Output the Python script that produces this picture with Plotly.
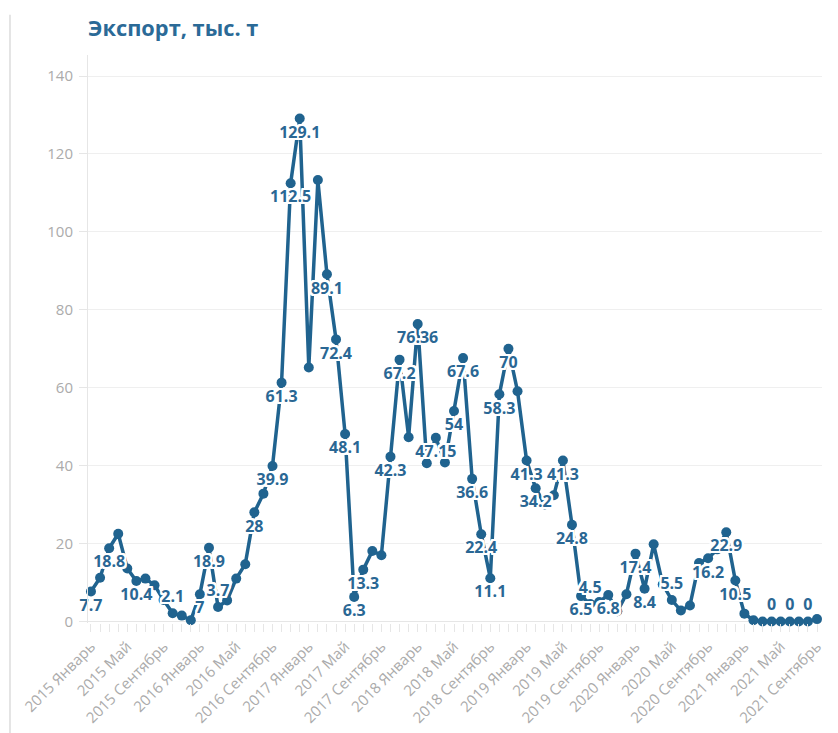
import plotly.graph_objects as go

# Monthly export volume, thousand tonnes, Jan 2015 .. Sep 2021
years = [2015, 2016, 2017, 2018, 2019, 2020, 2021]
tick_months = ["Январь", "Май", "Сентябрь"]

export_kt = [
    7.7, 11.2, 18.8, 22.5, 13.6, 10.4, 11.0, 9.3, 5.5, 2.1, 1.5, 0.3,        # 2015
    7, 18.9, 3.7, 5.4, 11.0, 14.7, 28, 32.8, 39.9, 61.3, 112.5, 129.1,       # 2016
    65.2, 113.3, 89.1, 72.4, 48.1, 6.3, 13.3, 18.1, 17.0, 42.3, 67.2, 47.3,  # 2017
    76.36, 40.6, 47.15, 40.8, 54, 67.6, 36.6, 22.4, 11.1, 58.3, 70, 59.1,    # 2018
    41.3, 34.2, 30.0, 32.4, 41.3, 24.8, 6.5, 4.5, 5.0, 6.8, 2.6, 7.0,        # 2019
    17.4, 8.4, 19.8, 9.5, 5.5, 2.8, 4.1, 15.0, 16.2, 18.5, 22.9, 10.5,       # 2020
    2.0, 0.3, 0, 0, 0, 0, 0, 0, 0.6,                                         # 2021
]

# points that carry a value label, and where the label sits
labelled = [0, 2, 5, 9, 12, 13, 14, 18, 20, 21, 22, 23, 26, 27, 28, 29, 30,
            33, 34, 36, 38, 40, 41, 42, 43, 44, 45, 46, 48, 49, 52, 53, 54,
            55, 57, 60, 61, 64, 68, 70, 71, 75, 77, 79]
above = {9: "top center", 14: "top center", 55: "top center", 64: "top center",
         75: "top center", 77: "top center", 79: "top center"}

month_idx = list(range(len(export_kt)))
tick_vals = list(range(0, len(export_kt), 4))
tick_text = [f"{y} {m}" for y in years for m in tick_months][:len(tick_vals)]

texts = [f"{v:g}" if i in labelled else "" for i, v in enumerate(export_kt)]
positions = [above.get(i, "bottom center") for i in month_idx]

LINE = "#20638f"
LABEL = "#2a6794"
AXIS_TXT = "#ababab"

# white halo around value labels so they read over the line
offsets = [(dx, dy) for dx in (-2, -1, 0, 1, 2) for dy in (-2, -1, 0, 1, 2)
           if (dx, dy) != (0, 0)]
halo = ", ".join(f"{dx}px {dy}px 0 #fff" for dx, dy in offsets)

fig = go.Figure(
    go.Scatter(
        x=month_idx,
        y=export_kt,
        mode="lines+markers+text",
        line=dict(color=LINE, width=3.5),
        marker=dict(color=LINE, size=10),
        text=texts,
        textposition=positions,
        textfont=dict(family="Open Sans", size=16, color=LABEL,
                      weight="bold", shadow=halo),
        cliponaxis=False,
        hoverinfo="x+y",
        showlegend=False,
    )
)

fig.update_layout(
    width=838,
    height=733,
    margin=dict(l=88, r=16, t=55, b=110, autoexpand=False),
    paper_bgcolor="white",
    plot_bgcolor="white",
    font=dict(family="Open Sans", color=AXIS_TXT),
    title=dict(
        text="Экспорт, тыс. т",
        xref="container", yref="container",
        x=88 / 838, xanchor="left",
        y=1 - 28 / 733, yanchor="middle",
        font=dict(family="Open Sans", size=21.8, color="#2b6a97", weight="bold"),
    ),
    xaxis=dict(
        range=[-0.33, 80.55],
        automargin=False,
        tickmode="array",
        tickvals=tick_vals,
        ticktext=tick_text,
        tickangle=-45,
        tickfont=dict(size=15, color=AXIS_TXT),
        ticks="outside", ticklen=8, tickcolor="#e6e6e6", tickwidth=1,
        minor=dict(dtick=1, tick0=0, ticks="outside", ticklen=8,
                   tickcolor="#e6e6e6", showgrid=False),
        showgrid=False, zeroline=False, showline=False,
    ),
    yaxis=dict(
        range=[-0.4, 145.4],
        automargin=False,
        tickmode="linear", tick0=0, dtick=20,
        tickfont=dict(size=15, color=AXIS_TXT),
        ticklabelstandoff=3,
        ticks="outside", ticklen=8, tickcolor="#e6e6e6",
        showgrid=True, gridcolor="#efefef", gridwidth=1,
        zeroline=True, zerolinecolor="#e6e6e6", zerolinewidth=1,
        showline=True, linecolor="#e6e6e6", linewidth=1,
    ),
    shapes=[
        dict(type="line", xref="paper", yref="paper",
             x0=-0.1063, x1=-0.1063, y0=-0.2, y1=1.071,
             line=dict(color="#dcdcdc", width=1.5)),
    ],
)

fig.write_html("out.html")
